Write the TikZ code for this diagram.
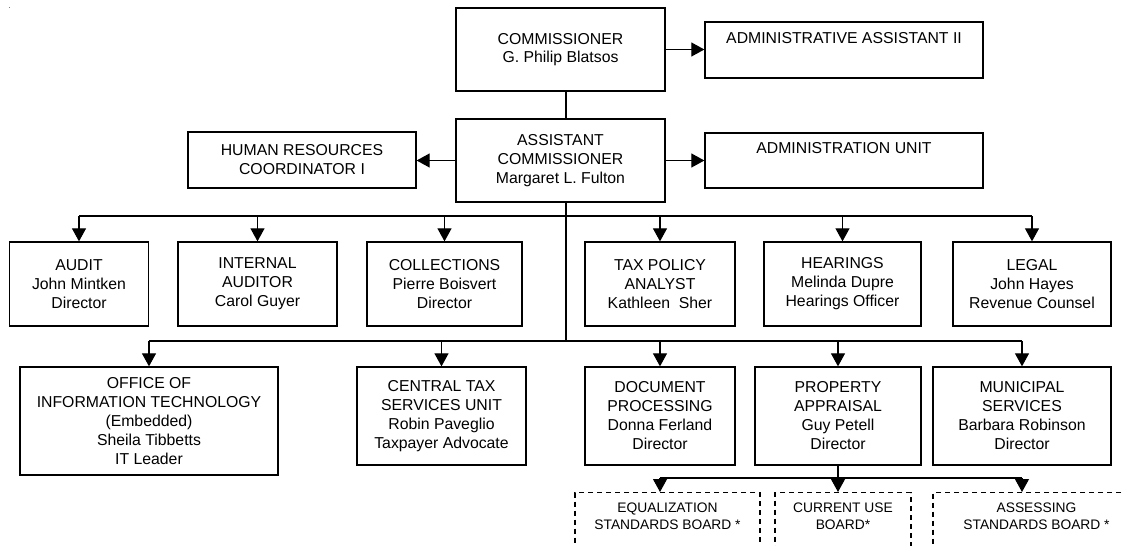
\documentclass[tikz,border=0pt]{standalone}
\usepackage{fontspec}
\setmainfont{Liberation Sans}
\usetikzlibrary{arrows.meta}
\begin{document}
\begin{tikzpicture}[x=1pt,y=-1pt,
 box/.style={draw, line width=1.3pt, align=center, inner sep=0pt, font=\fontsize{15.8}{19}\selectfont},
 dbox/.style={draw, dash pattern=on 5pt off 4pt, line width=1.1pt, inner sep=0pt, anchor=north},
 dtext/.style={align=center, inner sep=0pt, font=\fontsize{13.8}{17}\selectfont, anchor=north},
 conn/.style={line width=1.1pt},
 arr/.style={line width=1.1pt, -{Triangle[length=13pt,width=14pt]}},
 heavy/.style={line width=2pt}]
\useasboundingbox (0,0) rectangle (1125,546);
\clip (0,0) rectangle (1125,546);
\fill[gray] (8.5,6.5) rectangle (10,8);
% top
\node[box, minimum width=209pt, minimum height=83pt] (comm) at (560.5,49.5) {\raisebox{-4pt}{\shortstack{COMMISSIONER\\[3pt]G. Philip Blatsos}}};
\node[box, minimum width=278pt, minimum height=56pt] (aa2) at (844,50) {ADMINISTRATIVE ASSISTANT II\\\strut};
\node[box, minimum width=209pt, minimum height=83pt] (acomm) at (560.5,160.5) {ASSISTANT\\COMMISSIONER\\Margaret L. Fulton};
\node[box, minimum width=228pt, minimum height=56pt] (hr) at (302,160) {HUMAN RESOURCES\\COORDINATOR I};
\node[box, minimum width=278pt, minimum height=55pt] (au) at (844,160.5) {ADMINISTRATION UNIT\\\strut};
% row 2
\node[box, minimum width=139pt, minimum height=84pt] (audit) at (79,284) {AUDIT\\John Mintken\\Director};
\node[box, minimum width=159pt, minimum height=84pt] (internal) at (257.5,284) {INTERNAL\\AUDITOR\\Carol Guyer};
\node[box, minimum width=155pt, minimum height=84pt] (collections) at (444.5,284) {COLLECTIONS\\Pierre Boisvert\\Director};
\node[box, minimum width=150pt, minimum height=84pt] (tax) at (660,284) {TAX POLICY\\ANALYST\\Kathleen~~Sher};
\node[box, minimum width=157pt, minimum height=84pt] (hearings) at (842.5,284) {HEARINGS\\Melinda Dupre\\Hearings Officer};
\node[box, minimum width=158pt, minimum height=84pt] (legal) at (1032,284) {LEGAL\\John Hayes\\Revenue Counsel};
% row 3
\node[box, minimum width=258pt, minimum height=108pt] (oit) at (149,421) {OFFICE OF\\INFORMATION TECHNOLOGY\\(Embedded)\\Sheila Tibbetts\\IT Leader};
\node[box, minimum width=169pt, minimum height=98pt] (cts) at (441.5,416) {CENTRAL TAX\\SERVICES UNIT\\Robin Paveglio\\Taxpayer Advocate};
\node[box, minimum width=150pt, minimum height=98pt] (doc) at (660,416) {DOCUMENT\\PROCESSING\\Donna Ferland\\Director};
\node[box, minimum width=166pt, minimum height=98pt] (prop) at (838,416) {PROPERTY\\APPRAISAL\\Guy Petell\\Director};
\node[box, minimum width=178pt, minimum height=98pt] (mun) at (1022,416) {MUNICIPAL\\SERVICES\\Barbara Robinson\\Director};
% dashed boards
\node[dbox, minimum width=185pt, minimum height=80pt] (eq) at (667.5,492) {};
\node[dbox, minimum width=136pt, minimum height=80pt] (cu) at (843,492) {};
\node[dbox, minimum width=207pt, minimum height=80pt] (as) at (1036.5,492) {};
\node[dtext] (eqt) at ([yshift=-11pt]eq.north) {EQUALIZATION\\STANDARDS BOARD *};
\node[dtext] (cut) at ([yshift=-11pt]cu.north) {CURRENT USE\\BOARD*};
\node[dtext] (ast) at ([yshift=-11pt]as.north) {ASSESSING\\STANDARDS BOARD *};
% connectors
\draw[arr] (comm.east) -- (comm.east -| aa2.west);
\draw[heavy] ([xshift=5.5pt]comm.south) -- ([xshift=5.5pt]acomm.north);
\draw[arr] (acomm.west) -- (acomm.west -| hr.east);
\draw[arr] (acomm.east) -- (acomm.east -| au.west);
\coordinate (t0) at ([xshift=5.5pt]acomm.south);
\coordinate (b2) at (566,216);
\coordinate (b3) at (566,341);
\coordinate (b4) at (838,478);
\draw[conn] (t0) -- (b3);
\draw[conn] (audit.north |- b2) -- (legal.north |- b2);
\foreach \n in {audit,internal,collections,tax,hearings,legal}
  \draw[arr] (\n.north |- b2) -- (\n.north);
\draw[conn] (oit.north |- b3) -- (mun.north |- b3);
\foreach \n in {oit,cts,doc,prop,mun}
  \draw[arr] (\n.north |- b3) -- (\n.north);
\draw[heavy] (prop.south) -- (b4);
\draw[conn] (doc.south |- b4) -- (mun.south |- b4);
\draw[arr] (doc.south |- b4) -- (doc.south |- eq.north);
\draw[arr] (prop.south |- b4) -- (prop.south |- cu.north);
\draw[arr] (mun.south |- b4) -- (mun.south |- as.north);
\end{tikzpicture}
\end{document}
